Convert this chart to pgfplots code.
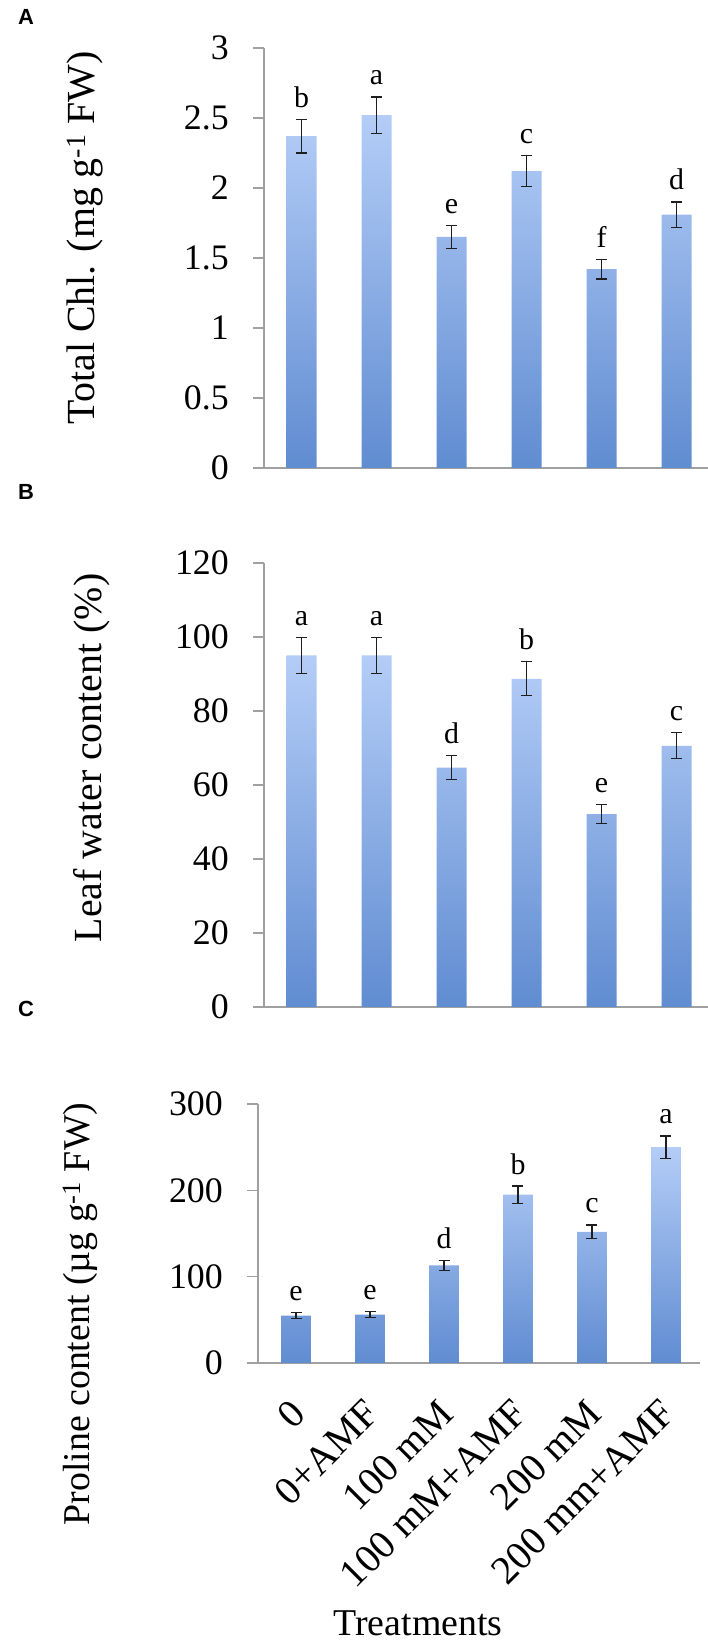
\documentclass[border=0pt]{standalone}
\usepackage{pgfplots}
\pgfplotsset{compat=1.18}
\usepackage{fontspec}
\setmainfont{Liberation Serif}
\newfontfamily\labsans{Liberation Sans}
\definecolor{barTop}{RGB}{180,205,247}
\definecolor{barBot}{RGB}{96,140,209}
\definecolor{axgray}{RGB}{160,160,160}
\definecolor{errcol}{RGB}{30,30,30}
\pgfplotsset{
  panel/.style={
    scale only axis, clip=false,
    axis x line=bottom, axis y line=left,
    axis line style={-, draw=axgray, line width=1.2bp},
    ymin=0,
    tick align=outside,
    major tick length=11bp,
    ytick style={draw=axgray, line width=1.2bp},
    xtick style={draw=none},
    yticklabel style={font=\fontsize{36}{36}\selectfont, anchor=east, inner sep=0pt, xshift=-24bp},
    ylabel style={font=\fontsize{40}{40}\selectfont, anchor=center},
    /pgf/number format/assume math mode=true,
  },
  bars/.style={ybar, bar width=0.4, draw=none, top color=barTop, bottom color=barBot},
  errs/.style={draw=none, mark=none, forget plot, error bars/.cd, y dir=both, y explicit,
    error bar style={line width=1.3bp, draw=errcol, solid},
    error mark options={rotate=90, mark size=5.5bp, line width=1.3bp, draw=errcol}},
  lets/.style={draw=none, mark=none, forget plot, nodes near coords, point meta=explicit symbolic,
    nodes near coords style={font=\fontsize{30}{30}\selectfont, anchor=base, inner sep=0pt, yshift=12bp, text=black}},
}
\begin{document}
\begin{tikzpicture}
\path[use as bounding box] (0,0) rectangle (708bp,1643bp);
\node[font=\labsans\bfseries\fontsize{22}{22}\selectfont] at (26bp,1626bp) {A};
\node[font=\labsans\bfseries\fontsize{22}{22}\selectfont] at (26bp,1151bp) {B};
\node[font=\labsans\bfseries\fontsize{22}{22}\selectfont] at (26bp,634bp) {C};

% Panel A
\begin{axis}[panel, at={(264bp,1175bp)}, anchor=south west, width=444bp, height=420bp,
  xmin=-0.5, xmax=5.42, ymax=3,
  ytick={0,0.5,1,1.5,2,2.5,3}, yticklabels={0,0.5,1,1.5,2,2.5,3}, xtick=\empty,
  ylabel={Total Chl. (mg g\textsuperscript{-1} FW)},
  ylabel style={at={(axis description cs:-0.403,0.548)}}]
\addplot[bars] coordinates {(0,2.37) (1,2.52) (2,1.65) (3,2.12) (4,1.42) (5,1.81)};
\addplot[errs] coordinates {(0,2.37) +- (0,0.12) (1,2.52) +- (0,0.13) (2,1.65) +- (0,0.08)
  (3,2.12) +- (0,0.11) (4,1.42) +- (0,0.07) (5,1.81) +- (0,0.09)};
\addplot[lets] coordinates {(0,2.49) [b] (1,2.65) [a] (2,1.73) [e] (3,2.23) [c] (4,1.49) [f] (5,1.90) [d]};
\end{axis}

% Panel B
\begin{axis}[panel, at={(264bp,636bp)}, anchor=south west, width=444bp, height=444bp,
  xmin=-0.5, xmax=5.42, ymax=120,
  ytick={0,20,...,120}, yticklabels={0,20,40,60,80,100,120}, xtick=\empty,
  ylabel={Leaf water content (\%)},
  ylabel style={at={(axis description cs:-0.387,0.561)}}]
\addplot[bars] coordinates {(0,95.0) (1,95.0) (2,64.7) (3,88.7) (4,52.1) (5,70.6)};
\addplot[errs] coordinates {(0,95.0) +- (0,4.8) (1,95.0) +- (0,4.8) (2,64.7) +- (0,3.3)
  (3,88.7) +- (0,4.6) (4,52.1) +- (0,2.6) (5,70.6) +- (0,3.5)};
\addplot[lets] coordinates {(0,99.8) [a] (1,99.8) [a] (2,68.0) [d] (3,93.3) [b] (4,54.7) [e] (5,74.1) [c]};
\end{axis}

% Panel C
\begin{axis}[panel, at={(258bp,280bp)}, anchor=south west, width=442bp, height=259bp,
  xmin=-0.514, xmax=5.46, ymax=300,
  ytick={0,100,200,300}, yticklabels={0,100,200,300},
  xtick={0,1,2,3,4,5},
  xticklabels={0,0+AMF,100 mM,100 mM+AMF,200 mM,200 mm+AMF},
  xticklabel style={font=\fontsize{40}{40}\selectfont, anchor=north east, inner sep=0pt, xshift=-7.5bp, yshift=-23bp, rotate=45},
  xlabel={Treatments},
  xlabel style={font=\fontsize{38}{38}\selectfont, at={(axis description cs:0.362,-1.004)}, anchor=center},
  ylabel={Proline content (µg g\textsuperscript{-1} FW)},
  ylabel style={font=\fontsize{38}{38}\selectfont, at={(axis description cs:-0.403,0.189)}}]
\addplot[bars] coordinates {(0,55) (1,56) (2,113) (3,195) (4,152) (5,250)};
\addplot[errs] coordinates {(0,55) +- (0,3.5) (1,56) +- (0,3.5) (2,113) +- (0,6)
  (3,195) +- (0,10) (4,152) +- (0,8) (5,250) +- (0,13)};
\addplot[lets] coordinates {(0,58.5) [e] (1,59.5) [e] (2,119) [d] (3,205) [b] (4,160) [c] (5,263) [a]};
\end{axis}
\end{tikzpicture}
\end{document}
